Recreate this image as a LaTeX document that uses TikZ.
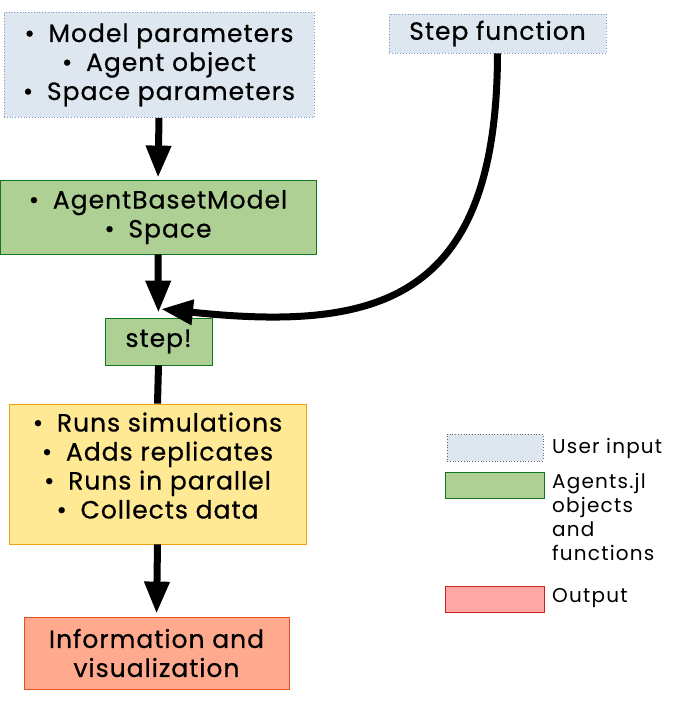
\documentclass[tikz,border=0pt]{standalone}
\usepackage{fontspec}
\setmainfont{Poppins}
\newfontfamily\boxfont{Poppins}[FakeBold=0.6, LetterSpace=4]
\newfontfamily\legfont{Poppins}[LetterSpace=6]
\usetikzlibrary{arrows.meta}
\definecolor{userfill}{HTML}{DEE6EF}
\definecolor{userline}{HTML}{729FCF}
\definecolor{agentfill}{HTML}{AFD095}
\definecolor{agentline}{HTML}{127622}
\definecolor{simfill}{HTML}{FFE994}
\definecolor{simline}{HTML}{F0A30A}
\definecolor{infofill}{HTML}{FFA98F}
\definecolor{infoline}{HTML}{E8501E}
\definecolor{outfill}{HTML}{FFA6A6}
\definecolor{outline}{HTML}{C9211E}
\newcommand{\bul}{\textbullet\hspace{0.55em}}

\begin{document}
\begin{tikzpicture}[x=1pt,y=-1pt,
  box/.style={draw, line width=0.8pt, align=center, inner sep=0pt,
    font=\boxfont\fontsize{25}{29}\selectfont},
  flow/.style={line width=7pt, -{Triangle[length=32pt,width=24pt]}},
  legtext/.style={font=\legfont\fontsize{20}{24}\selectfont, align=left, anchor=north west, inner sep=0pt}]
  \useasboundingbox (0,0) rectangle (698,714);
  % User input boxes
  \node[box, dotted, draw=userline, fill=userfill, minimum width=310pt, minimum height=105pt]
    (inp) at (159,65) {\bul Model parameters\\\bul Agent object\\\bul Space parameters};
  \node[box, dotted, draw=userline, fill=userfill, minimum width=217pt, minimum height=39pt]
    (stepfn) at (497.5,33.5) {Step function};
  % Agents.jl boxes
  \node[box, draw=agentline, fill=agentfill, minimum width=316pt, minimum height=74pt]
    (abm) at (158,217) {\bul AgentBasetModel\\\bul Space};
  \node[box, draw=agentline, fill=agentfill, minimum width=107pt, minimum height=47pt]
    (stp) at (158.5,341.5) {step!};
  % Simulation box (text sits high in the box)
  \node[box, draw=simline, fill=simfill, minimum width=297pt, minimum height=140pt, text depth=17pt]
    (sim) at (157.5,474) {\bul Runs simulations\\\bul Adds replicates\\\bul Runs in parallel\\\bul Collects data};
  % Output box
  \node[box, draw=infoline, fill=infofill, minimum width=265pt, minimum height=72pt]
    (info) at (156.5,653) {Information and\\visualization};
  % Arrows
  \coordinate (tip) at (161,309);
  \draw[flow, shorten >=2pt] (inp.south) -- (abm.north);
  \draw[flow, shorten >=5pt] (abm.south) -- (stp.north);
  \draw[line width=7pt] (stp.south) -- (sim.north);
  \draw[flow, shorten >=3pt] (sim.south) -- (info.north);
  \draw[flow] (stepfn.south) .. controls (497,300) and (380,332) .. (tip);
  % Legend
  \node[draw=black!60, dotted, line width=0.8pt, fill=userfill, minimum width=96pt, minimum height=27pt, inner sep=0pt]
    (leguser) at (495,447.5) {};
  \node[draw=agentline, line width=0.8pt, fill=agentfill, minimum width=99pt, minimum height=26pt, inner sep=0pt]
    (legagent) at (494.5,485) {};
  \node[draw=outline, line width=0.8pt, fill=outfill, minimum width=99pt, minimum height=26pt, inner sep=0pt]
    (legout) at (494.5,599) {};
  \node[legtext] (txtuser) at (552,438) {User input};
  \node[legtext] (txtagent) at (552,473) {Agents.jl\\objects\\and\\functions};
  \node[legtext] (txtout) at (552,588) {Output};
\end{tikzpicture}
\end{document}
